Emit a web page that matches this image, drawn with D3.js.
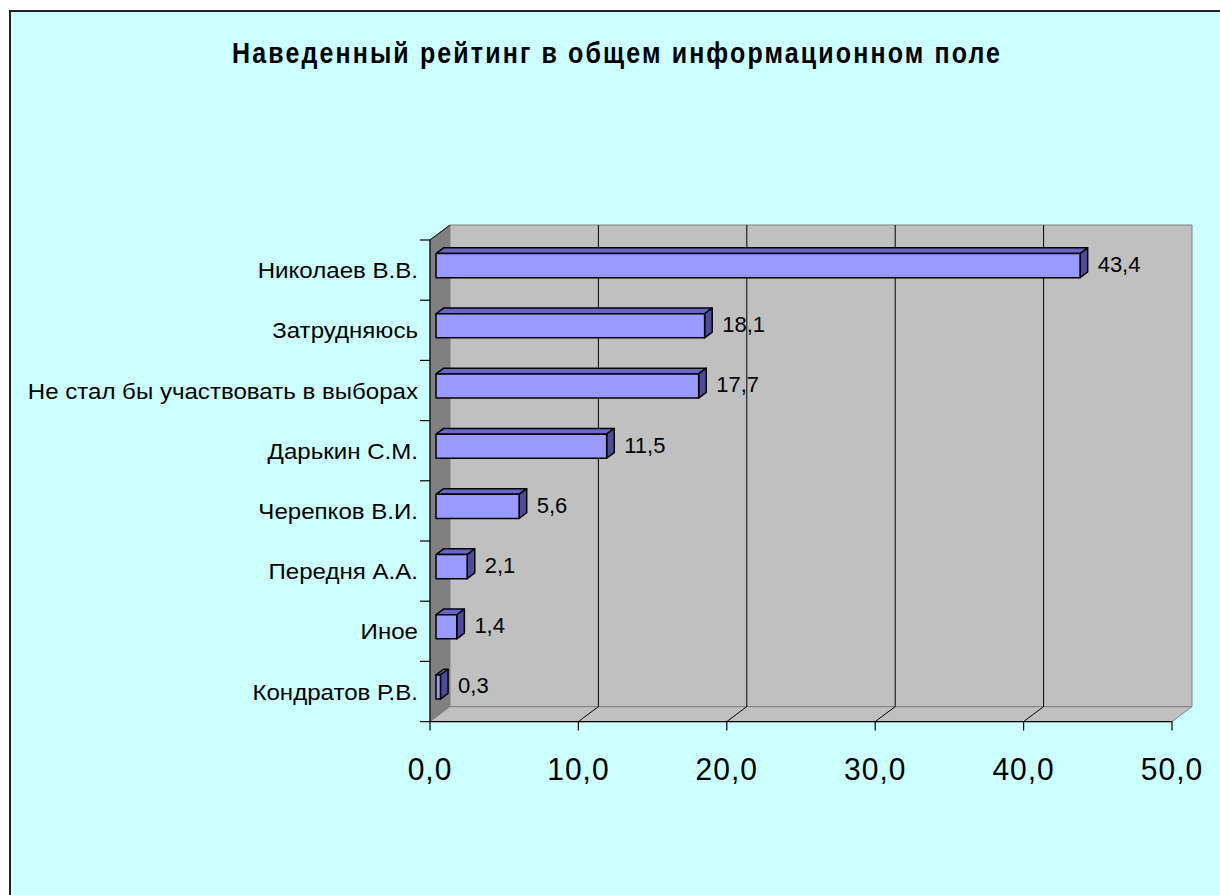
<!DOCTYPE html>
<html>
<head>
<meta charset="utf-8">
<script src="https://cdn.jsdelivr.net/npm/d3@7"></script>
<style>
  html, body { margin: 0; padding: 0; background: #fff; }
  svg { display: block; font-family: Arial, "Liberation Sans", sans-serif; }
</style>
</head>
<body>
<main></main>
<script>
// horizontal 3D bar chart, excel style

const title = "Наведенный рейтинг в общем информационном поле";
const categories = [
  "Николаев В.В.",
  "Затрудняюсь",
  "Не стал бы участвовать в выборах",
  "Дарькин С.М.",
  "Черепков В.И.",
  "Передня А.А.",
  "Иное",
  "Кондратов Р.В."
];
const values = [43.4, 18.1, 17.7, 11.5, 5.6, 2.1, 1.4, 0.3];
const xTicks = [0, 10, 20, 30, 40, 50];

let width = 1220,
    height = 895;

// depth offsets of the 3d box
let dx = 20, dy = 15;
let barFront = 0.3, barBack = 0.68;

let x = d3.scaleLinear().domain([0, 50]).range([430, 1172]);
let y = d3.scaleBand().domain(categories).range([240, 721.6]).paddingInner(0.6).paddingOuter(0.3);

let fmt = v => d3.format(".1f")(v).replace(".", ",");

// project a point given value, front-plane y and depth (0 front, 1 back)
function P(v, yy, d) { return [x(v) + d * dx, yy - d * dy]; }
function poly(pts) { return pts.map(p => p.join(",")).join(" "); }

let svg = d3.select("main").append("svg")
  .attr("width", width)
  .attr("height", height);

svg.append("rect").attr("width", width).attr("height", height).attr("fill", "#fff");

// chart area
svg.append("rect")
  .attr("x", 10).attr("y", 11)
  .attr("width", 1240).attr("height", 920)
  .attr("fill", "#CCFFFF")
  .attr("stroke", "#222").attr("stroke-width", 2);

svg.append("text")
  .attr("transform", "translate(616,63) scale(1,1.15)")
  .attr("text-anchor", "middle")
  .attr("font-size", 25).attr("font-weight", "bold")
  .attr("textLength", 768).attr("lengthAdjust", "spacing")
  .text(title);

let yTop = y.range()[0], yBot = y.range()[1];

// left wall
svg.append("polygon")
  .attr("points", poly([P(0, yTop, 0), P(0, yTop, 1), P(0, yBot, 1), P(0, yBot, 0)]))
  .attr("fill", "#808080").attr("stroke", "#808080");

// floor
svg.append("polygon")
  .attr("points", poly([P(0, yBot, 0), P(0, yBot, 1), P(50, yBot, 1), P(50, yBot, 0)]))
  .attr("fill", "#C0C0C0").attr("stroke", "#808080");

// back wall
svg.append("polygon")
  .attr("points", poly([P(0, yTop, 1), P(50, yTop, 1), P(50, yBot, 1), P(0, yBot, 1)]))
  .attr("fill", "#C0C0C0").attr("stroke", "#808080");

// gridlines on back wall and floor
let grid = svg.append("g").attr("stroke", "#000").attr("stroke-width", 1);
xTicks.filter(t => t > 0 && t < 50).forEach(t => {
  let a = P(t, yTop, 1), b = P(t, yBot, 1), c = P(t, yBot, 0);
  grid.append("polyline").attr("fill", "none").attr("points", poly([a, b, c]));
});

// left wall top edge
svg.append("line")
  .attr("x1", P(0, yTop, 0)[0]).attr("y1", P(0, yTop, 0)[1])
  .attr("x2", P(0, yTop, 1)[0]).attr("y2", P(0, yTop, 1)[1])
  .attr("stroke", "#000");

// axes
let axis = svg.append("g").attr("stroke", "#000").attr("stroke-width", 1.2);
axis.append("line").attr("x1", x(0)).attr("x2", x(50)).attr("y1", yBot).attr("y2", yBot);
axis.append("line").attr("x1", x(0)).attr("x2", x(0)).attr("y1", yTop).attr("y2", yBot);
xTicks.forEach(t => {
  axis.append("line").attr("x1", x(t)).attr("x2", x(t)).attr("y1", yBot).attr("y2", yBot + 9);
});
let step = y.step();
d3.range(categories.length + 1).forEach(i => {
  let yy = yTop + i * step;
  axis.append("line").attr("x1", x(0) - 10).attr("x2", x(0)).attr("y1", yy).attr("y2", yy);
});

// x tick labels
svg.append("g").selectAll("text").data(xTicks).join("text")
  .attr("transform", d => `translate(${x(d)},${yBot + 58}) scale(1,1.05)`)
  .attr("text-anchor", "middle")
  .attr("font-size", 30)
  .attr("letter-spacing", 1)
  .text(d => fmt(d));

// category labels
svg.append("g").selectAll("text").data(categories).join("text")
  .attr("transform", d => `translate(418,${y(d) + y.bandwidth() / 2 + 8}) scale(1.07,1)`)
  .attr("text-anchor", "end")
  .attr("font-size", 22.5)
  .text(d => d);

// bars
let bars = svg.append("g").attr("stroke", "#000").attr("stroke-width", 1.5).attr("stroke-linejoin", "round");
categories.forEach((c, i) => {
  let v = values[i];
  let y0 = y(c), y1 = y(c) + y.bandwidth();
  let g = bars.append("g");
  // top face
  g.append("polygon")
    .attr("points", poly([P(0, y0, barFront), P(0, y0, barBack), P(v, y0, barBack), P(v, y0, barFront)]))
    .attr("fill", "#6666CC");
  // right face
  g.append("polygon")
    .attr("points", poly([P(v, y0, barFront), P(v, y0, barBack), P(v, y1, barBack), P(v, y1, barFront)]))
    .attr("fill", "#4C4C99");
  // front face
  let f0 = P(0, y0, barFront), f1 = P(v, y1, barFront);
  g.append("rect")
    .attr("x", f0[0]).attr("y", f0[1])
    .attr("width", f1[0] - f0[0]).attr("height", f1[1] - f0[1])
    .attr("fill", "#9999FF");
  // value label
  let lp = P(v, (y0 + y1) / 2, barBack);
  svg.append("text")
    .attr("x", lp[0] + 10).attr("y", lp[1] + 12)
    .attr("font-size", 22)
    .text(fmt(v));
});
</script>
</body>
</html>
